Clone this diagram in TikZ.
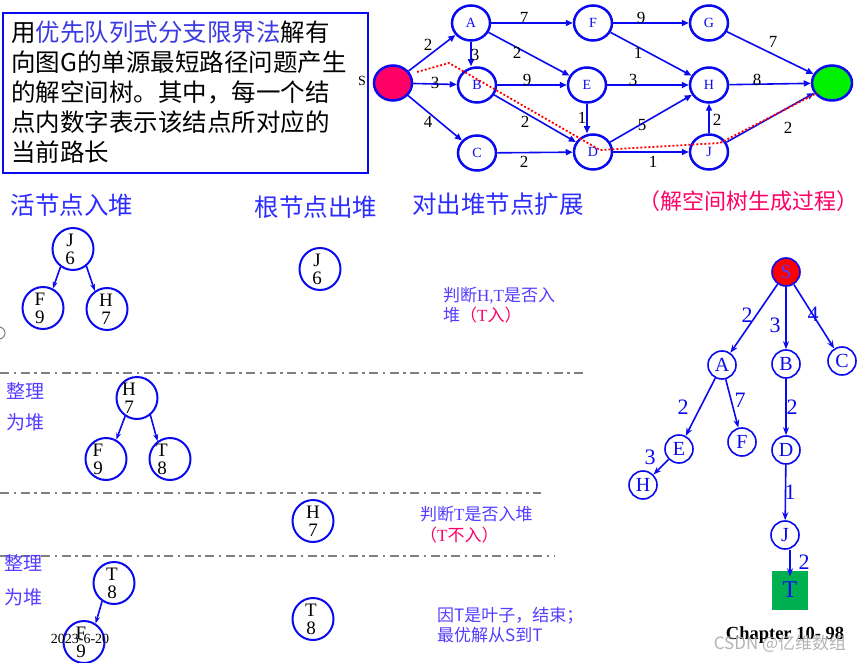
\documentclass[tikz,border=0pt]{standalone}
\usepackage{fontspec}
\setmainfont{Liberation Serif}
\newfontfamily\cjk{Noto Sans CJK SC}
\usetikzlibrary{arrows.meta,shapes.geometric}
\definecolor{gblue}{RGB}{10,10,240}
\definecolor{tblue}{RGB}{85,60,255}
\definecolor{hblue}{RGB}{45,45,255}
\definecolor{ttblue}{RGB}{60,60,225}
\definecolor{pinkc}{RGB}{255,0,102}
\definecolor{sred}{RGB}{255,0,102}
\definecolor{tgreen}{RGB}{0,240,0}
\definecolor{sqgreen}{RGB}{0,176,80}
\tikzset{
  gnode/.style={ellipse, draw=gblue, line width=2.5pt, minimum width=38pt, minimum height=35pt, inner sep=0pt, text=gblue, font=\fontsize{14}{14}\selectfont},
  garr/.style={draw=gblue, line width=1.6pt, -{Triangle[length=7pt,width=6pt]}},
  elbl/.style={inner sep=0pt, text=black, font=\fontsize{17}{17}\selectfont},
  hnode/.style={ellipse, draw=gblue, line width=2pt, minimum width=41pt, minimum height=42pt, inner sep=0pt},
  htext/.style={align=center, inner sep=0pt, text=black, font=\fontsize{19}{18}\selectfont},
  harr/.style={draw=gblue, line width=1.6pt, -{Stealth[length=7pt,width=5pt]}},
  tnode/.style={circle, draw=gblue, line width=1.6pt, minimum size=28pt, inner sep=0pt, text=gblue, font=\fontsize{20}{20}\selectfont},
  tarr/.style={draw=gblue, line width=1.6pt, -{Stealth[length=8pt,width=6pt]}},
  tlbl/.style={inner sep=0pt, text=gblue, font=\fontsize{22}{22}\selectfont},
  ddl/.style={draw=gray, line width=1.5pt, dash pattern=on 9pt off 4.5pt on 2.5pt off 4.5pt},
  hd/.style={inner sep=0pt, text=hblue, font=\cjk\fontsize{24.5}{24.5}\selectfont},
  note/.style={anchor=west, align=left, inner sep=0pt, text=tblue}
}
\begin{document}
\begin{tikzpicture}[x=1pt,y=-1pt]
\useasboundingbox[fill=white] (0,0) rectangle (864,663);

% title box
\node[draw=gblue, line width=2pt, minimum width=365pt, minimum height=160pt, inner sep=0pt, anchor=north west] (box) at (2,12) {};
\node[anchor=west, align=left, inner sep=0pt, font=\cjk\fontsize{24.5}{30}\selectfont] (title) at (11,92)
 {用{\color{ttblue}优先队列式分支限界法}解有\\向图G的单源最短路径问题产生\\的解空间树。其中，每一个结\\点内数字表示该结点所对应的\\当前路长};

% graph
\node[gnode, fill=sred] (S) at (393,83) {};
\node[inner sep=0pt, font=\fontsize{14}{14}\selectfont] (Sl) at (362,81) {S};
\node[gnode] (A) at (471,23) {A};
\node[gnode] (F) at (593,23) {F};
\node[gnode] (G) at (709,23) {G};
\node[gnode] (B) at (477,85) {B};
\node[gnode] (E) at (587,85) {E};
\node[gnode] (H) at (709,85) {H};
\node[gnode, fill=tgreen, minimum width=40pt] (T) at (832,83) {};
\node[gnode] (C) at (477,153) {C};
\node[gnode] (D) at (593,152) {D};
\node[gnode] (J) at (709,152) {J};

\draw[garr] (S) -- (A);
\draw[garr] (S) -- (B);
\draw[garr] (S) -- (C);
\draw[garr] (A) -- (F);
\draw[garr] (A.south) -- (A.south |- B.north);
\draw[garr] (A) -- (E);
\draw[garr] (F) -- (G);
\draw[garr] (F) -- (H);
\draw[garr] (G) -- (T);
\draw[garr] (B) -- (E);
\draw[garr] (B) -- (D);
\draw[garr] (E) -- (H);
\draw[garr] (E.south) -- (E.south |- D.north);
\draw[garr] (H) -- (T);
\draw[garr] (C) -- (D);
\draw[garr] (D) -- (H);
\draw[garr] (D) -- (J);
\draw[garr] (J) -- (H);
\draw[garr] (J) -- (T);

\node[elbl] (l1) at (428,45) {2};
\node[elbl] (l2) at (435,83) {3};
\node[elbl] (l3) at (428,122) {4};
\node[elbl] (l4) at (524,18) {7};
\node[elbl] (l5) at (475,55) {3};
\node[elbl] (l6) at (517,53) {2};
\node[elbl] (l7) at (641,18) {9};
\node[elbl] (l8) at (638,53) {1};
\node[elbl] (l9) at (773,42) {7};
\node[elbl] (l10) at (527,80) {9};
\node[elbl] (l11) at (633,80) {3};
\node[elbl] (l12) at (757,80) {8};
\node[elbl] (l13) at (525,122) {2};
\node[elbl] (l14) at (582,118) {1};
\node[elbl] (l15) at (642,125) {5};
\node[elbl] (l16) at (717,120) {2};
\node[elbl] (l17) at (788,128) {2};
\node[elbl] (l18) at (524,162) {2};
\node[elbl] (l19) at (653,162) {1};

\coordinate (r1) at (417,72);
\coordinate (r2) at (449,63);
\coordinate (r3) at (600,150);
\coordinate (r4) at (720,143);
\coordinate (r5) at (817,93);
\draw[red, line width=1.8pt, dash pattern=on 2pt off 2pt] (r1) -- (r2) -- (r3) -- (r4) -- (r5);

% headings
\node[hd] (hA) at (72,205) {活节点入堆};
\node[hd] (hB) at (316,207) {根节点出堆};
\node[hd] (hC) at (498,204) {对出堆节点扩展};
\node[inner sep=0pt, text=pinkc, font=\cjk\fontsize{22}{22}\selectfont] (hD) at (748,201) {（解空间树生成过程）};

% separators
\draw[ddl] (0,373) -- (585,373);
\draw[ddl] (0,493) -- (541,493);
\draw[ddl] (0,556) -- (555,556);
\draw[gray, line width=1pt] (-1,333) circle (6pt);

% heap row 1
\node[hnode] (j1) at (73,249) {};
\node[htext] (j1t) at ([xshift=-3pt]j1) {J\\6};
\node[hnode] (f1) at (43,308) {};
\node[htext] (f1t) at ([xshift=-3pt]f1) {F\\9};
\node[hnode] (h1) at (107,309) {};
\node[htext] (h1t) at ([xshift=-1pt]h1) {H\\7};
\draw[harr] (j1.235) -- (f1.63);
\draw[harr] (j1.308) -- (h1.124);

\node[hnode] (j0) at (320,269) {};
\node[htext] (j0t) at ([xshift=-3pt]j0) {J\\6};
\node[note, font=\fontsize{17}{20}\selectfont] (n1) at (443,305)
 {{\cjk 判断}H,T{\cjk 是否入}\\{\cjk 堆}{\color{pinkc}{\cjk （}T{\cjk 入）}}};

% heap row 2
\node[note, font=\cjk\fontsize{19}{31}\selectfont] (z1) at (6,407) {整理\\为堆};
\node[hnode] (h2) at (137,398) {};
\node[htext] (h2t) at ([xshift=-8pt]h2) {H\\7};
\node[hnode] (f2) at (106,459) {};
\node[htext] (f2t) at ([xshift=-8pt]f2) {F\\9};
\node[hnode] (t2) at (170,459) {};
\node[htext] (t2t) at ([xshift=-8pt]t2) {T\\8};
\draw[harr] (h2.237) -- (f2.62);
\draw[harr] (h2.308) -- (t2.125);

% row 3
\node[hnode] (h3) at (313,521) {};
\node[htext] (h3t) at (h3) {H\\7};
\node[note, font=\fontsize{17}{21}\selectfont] (n2) at (420,525)
 {{\cjk 判断}T{\cjk 是否入堆}\\{\color{pinkc}{\cjk （}T{\cjk 不入）}}};

% row 4
\node[note, font=\cjk\fontsize{19}{34}\selectfont] (z2) at (4,580) {整理\\为堆};
\node[hnode] (t4) at (114,583) {};
\node[htext] (t4t) at ([xshift=-2pt]t4) {T\\8};
\node[hnode] (f4) at (84,642) {};
\node[htext] (f4t) at ([xshift=-3pt]f4) {F\\9};
\draw[harr] (t4.237) -- (f4.58);
\node[hnode] (t3) at (313,619) {};
\node[htext] (t3t) at ([xshift=-2pt]t3) {T\\8};
\node[note, font=\cjk\fontsize{17}{20}\selectfont] (n3) at (437,625) {因T是叶子，结束；\\最优解从S到T};
\node[inner sep=0pt, font=\fontsize{14}{14}\selectfont] (date) at (80,639) {2023-6-20};

% solution tree
\node[tnode, fill=red, text=tblue] (ts) at (786,272) {S};
\node[tnode] (ta) at (722,365) {A};
\node[tnode] (tb) at (786,364) {B};
\node[tnode] (tc) at (842,361) {C};
\node[tnode] (te) at (679,449) {E};
\node[tnode] (tf) at (742,442) {F};
\node[tnode] (td) at (786,450) {D};
\node[tnode] (th) at (643,485) {H};
\node[tnode] (tj) at (785,535) {J};
\node[fill=sqgreen, minimum width=36pt, minimum height=39pt, inner sep=0pt, text=gblue, font=\fontsize{24}{24}\selectfont] (tt) at (790,590) {T};
\draw[tarr] (ts) -- (ta);
\draw[tarr] (ts) -- (tb);
\draw[tarr] (ts) -- (tc);
\draw[tarr] (ta) -- (te);
\draw[tarr] (ta) -- (tf);
\draw[tarr] (tb) -- (td);
\draw[tarr] (te) -- (th);
\draw[tarr] (td) -- (tj);
\draw[tarr] (tj.south -| tt.north) -- ([yshift=-6pt]tt.north);
\node[tlbl] (k1) at (747,315) {2};
\node[tlbl] (k2) at (775,325) {3};
\node[tlbl] (k3) at (813,314) {4};
\node[tlbl] (k4) at (683,407) {2};
\node[tlbl] (k5) at (740,400) {7};
\node[tlbl] (k6) at (792,407) {2};
\node[tlbl] (k7) at (650,457) {3};
\node[tlbl] (k8) at (790,492) {1};
\node[tlbl] (k9) at (804,562) {2};

\node[inner sep=0pt, font=\bfseries\fontsize{18.5}{18.5}\selectfont] (chap) at (785,635) {Chapter 10- 98};
\node[inner sep=0pt, text=gray!65, opacity=0.9, font=\cjk\fontsize{17}{17}\selectfont] (wm) at (780,644) {CSDN @亿维数组};
\end{tikzpicture}
\end{document}
